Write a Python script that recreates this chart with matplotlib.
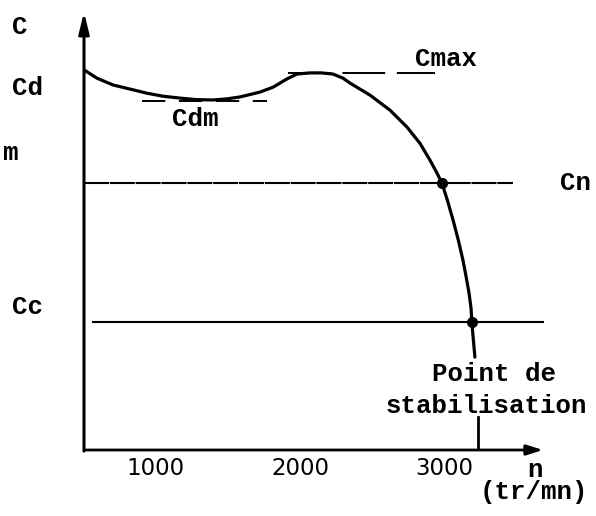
import numpy as np
import matplotlib
matplotlib.use("Agg")
from matplotlib import pyplot as plt

# couple C (unites arbitraires) en fonction de la vitesse n (tr/mn)
n_curve = [500, 590, 701, 819, 937, 1049, 1167, 1278, 1396, 1493, 1583, 1722,
           1813, 1910, 1979, 2069, 2150, 2229, 2299, 2347, 2486, 2625, 2743,
           2833, 2903, 2951, 2986, 3025, 3063, 3100, 3132, 3153, 3174, 3188,
           3194, 3215]
c_curve = [101.1, 98.9, 97.1, 96.0, 94.9, 94.1, 93.6, 93.2, 93.1, 93.4, 93.9,
           95.2, 96.5, 98.7, 100.0, 100.3, 100.3, 100.0, 98.9, 97.6, 94.4,
           90.4, 85.9, 81.6, 77.1, 73.7, 71.0, 66.3, 61.2, 55.8, 50.5, 46.3,
           41.8, 37.8, 33.8, 24.7]

c_max, c_dm, c_n, c_c = 100.3, 92.8, 71.0, 34.0
n_cn_point, n_cc_point = 2986, 3194
n_stab = 3236
x_ticks = [1000, 2000, 3000]

xmin, xmax = 500, 3688
ymin, ymax = 0, 116.5

mono = "Liberation Mono"
fs = 18.5

fig = plt.figure(figsize=(5.96, 5.16), dpi=100)
ax = fig.add_axes([84/596, 66/516, 459/596, 438/516])
ax.set_xlim(xmin, xmax)
ax.set_ylim(ymin, ymax)
for s in ax.spines.values():
    s.set_visible(False)
ax.set_yticks([])
ax.set_xticks(x_ticks)
ax.set_xticklabels([str(t) for t in x_ticks], fontsize=16.5, family="DejaVu Sans")
ax.tick_params(axis="x", length=0, pad=5)

# axes with arrows
ax.annotate("", xy=(xmin, ymax), xytext=(xmin, ymin - 0.3), annotation_clip=False,
            arrowprops=dict(arrowstyle="-|>,head_length=0.9,head_width=0.22",
                            mutation_scale=14, lw=2.2, color="black",
                            shrinkA=0, shrinkB=0))
ax.annotate("", xy=(xmax, ymin), xytext=(xmin, ymin), annotation_clip=False,
            arrowprops=dict(arrowstyle="-|>,head_length=0.7,head_width=0.22",
                            mutation_scale=14, lw=2.0, color="black",
                            shrinkA=0, shrinkB=0))

# horizontal reference lines
ax.plot([903, 1771], [c_dm, c_dm], color="black", lw=1.4, ls=(0, (12, 7)))
ax.plot([1917, 2938], [c_max, c_max], color="black", lw=1.4, ls=(0, (22, 6)))
ax.plot([500, 3479], [c_n, c_n], color="black", lw=1.5, ls=(0, (12, 0.4)))
ax.plot([563, 3688], [c_c, c_c], color="black", lw=1.5, clip_on=False)

# torque curve
ax.plot(n_curve, c_curve, color="black", lw=2.3, solid_capstyle="round",
        solid_joinstyle="round")

# working points
ax.plot([n_cn_point, n_cc_point], [c_n, c_c], "o", color="black", ms=7)
ax.plot([n_stab, n_stab], [0, 8.8], color="black", lw=2.0)

# labels
kw = dict(family=mono, fontsize=fs, ha="center", va="center", clip_on=False,
          fontweight="bold")
ax.text(56, 112.5, "C", **kw)
ax.text(111, 96.3, "Cd", **kw)
ax.text(-70, 79, "m", family=mono, fontsize=fs, fontweight="bold",
        ha="left", va="center")
ax.text(111, 38, "Cc", **kw)
ax.text(3917, 71, "Cn", **kw)
ax.text(3014, 104, "Cmax", **kw)
ax.text(1271, 88, "Cdm", **kw)
ax.text(3347, 20.2, "Point de", **kw)
ax.text(3292, 11.7, "stabilisation", **kw)
ax.text(3632, -5.3, "n", **kw)
ax.text(3625, -11.2, "(tr/mn)", **kw)

fig.savefig("out.png", dpi=100, facecolor="white")
